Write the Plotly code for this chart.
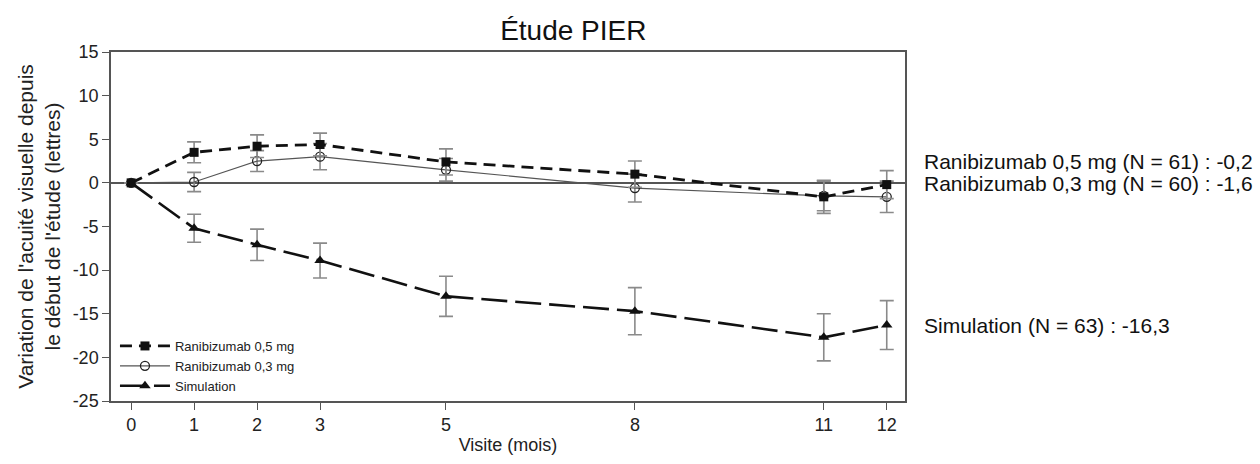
import plotly.graph_objects as go

# Visits (months) and mean change in visual acuity (letters)
visits = [0, 1, 2, 3, 5, 8, 11, 12]

rani05 = [0.0, 3.5, 4.2, 4.4, 2.4, 1.0, -1.6, -0.2]
rani05_err = [0.0, 1.2, 1.3, 1.3, 1.5, 1.5, 1.9, 1.6]

rani03 = [0.0, 0.1, 2.5, 3.0, 1.5, -0.6, -1.5, -1.6]
rani03_err = [0.0, 1.1, 1.2, 1.5, 1.3, 1.6, 1.7, 1.8]

simul = [0.0, -5.2, -7.1, -8.9, -13.0, -14.7, -17.7, -16.3]
simul_err = [0.0, 1.6, 1.8, 2.0, 2.3, 2.7, 2.7, 2.8]

y_ticks = [15, 10, 5, 0, -5, -10, -15, -20, -25]

names = ["Ranibizumab 0,5 mg", "Ranibizumab 0,3 mg", "Simulation"]
end_labels = [
    "Ranibizumab 0,5 mg (N = 61) : -0,2",
    "Ranibizumab 0,3 mg (N = 60) : -1,6",
    "Simulation (N = 63) : -16,3",
]
end_label_y = [2.5, -0.1, -16.3]

FONT = "Liberation Sans, Arial, sans-serif"
ERR_COLOR = "#8a8a8a"

fig = go.Figure()

fig.add_trace(go.Scatter(
    x=visits, y=simul, name=names[2], mode="lines+markers",
    line=dict(color="#111111", width=2.6, dash="26px,8px"),
    marker=dict(symbol="triangle-up", size=10, color="#111111"),
    error_y=dict(type="data", array=simul_err, color=ERR_COLOR, thickness=1.6, width=7),
))
fig.add_trace(go.Scatter(
    x=visits, y=rani03, name=names[1], mode="lines+markers",
    line=dict(color="#555555", width=1.2),
    marker=dict(symbol="circle-open", size=9, color="#222222", line=dict(width=1.3)),
    error_y=dict(type="data", array=rani03_err, color=ERR_COLOR, thickness=1.6, width=7),
))
fig.add_trace(go.Scatter(
    x=visits, y=rani05, name=names[0], mode="lines+markers",
    line=dict(color="#111111", width=2.8, dash="12px,7px"),
    marker=dict(symbol="square", size=9, color="#111111"),
    error_y=dict(type="data", array=rani05_err, color=ERR_COLOR, thickness=1.6, width=7),
))

for text, yv in zip(end_labels, end_label_y):
    fig.add_annotation(
        x=1.0215, xref="paper", y=yv, yref="y", text=text, showarrow=False,
        xanchor="left", yanchor="middle",
        font=dict(family=FONT, size=21, color="#111111"),
    )

axis_common = dict(
    showline=True, mirror=True, linecolor="#555555", linewidth=1.5,
    ticks="outside", ticklen=7, tickwidth=1.3, tickcolor="#555555",
    showgrid=False, tickfont=dict(family=FONT, size=18, color="#222222"),
)

fig.update_layout(
    width=1260, height=464,
    margin=dict(l=111, r=355, t=52, b=61),
    paper_bgcolor="white", plot_bgcolor="white",
    title=dict(text="Étude PIER", x=0.455, xanchor="center", y=0.935, yanchor="middle",
               font=dict(family=FONT, size=28, color="#111111")),
    xaxis=dict(
        range=[-0.32, 12.29], tickvals=visits, ticktext=[str(v) for v in visits],
        title=dict(text="Visite (mois)", font=dict(family=FONT, size=18, color="#222222"), standoff=4),
        zeroline=False, **axis_common,
    ),
    yaxis=dict(
        range=[-25, 15], tickvals=y_ticks, ticktext=[str(v) for v in y_ticks],
        title=dict(text="Variation de l'acuité visuelle depuis<br>le début de l'étude (lettres)",
                   font=dict(family=FONT, size=21, color="#222222"), standoff=6),
        zeroline=True, zerolinecolor="#555555", zerolinewidth=1.5,
        **axis_common,
    ),
    legend=dict(
        x=0.005, y=0.0, xanchor="left", yanchor="bottom", traceorder="reversed",
        bgcolor="rgba(0,0,0,0)", font=dict(family=FONT, size=13, color="#222222"),
        itemwidth=50, tracegroupgap=0,
    ),
    showlegend=True,
)

fig.write_html("out.html")
